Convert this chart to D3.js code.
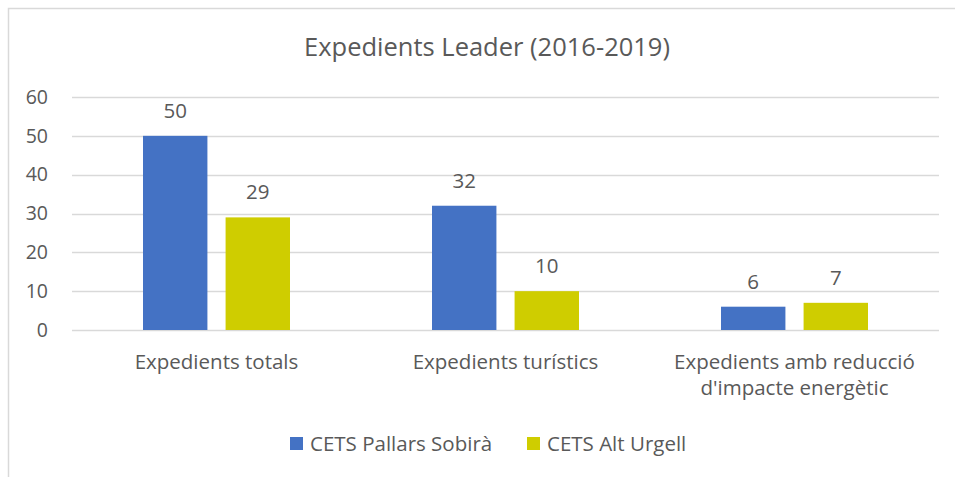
<!DOCTYPE html>
<meta charset="utf-8">
<style>
body { margin: 0; background: #fff; }
svg text { font-family: "Open Sans", sans-serif; fill: #595959; }
</style>
<svg width="955" height="477"></svg>
<script src="https://cdn.jsdelivr.net/npm/d3@7"></script>
<script>

var categories = [["Expedients totals"], ["Expedients turístics"], ["Expedients amb reducció", "d'impacte energètic"]];
var seriesNames = ["CETS Pallars Sobirà", "CETS Alt Urgell"];
var pallars = [50, 32, 6];
var altUrgell = [29, 10, 7];
var yTicks = [0, 10, 20, 30, 40, 50, 60];
var colors = ["#4472C4", "#CFCD00"];

var svg = d3.select("svg");

// chart frame (only top/left edge visible in the picture)
svg.append("rect")
    .attr("x", 8.5).attr("y", 8.5)
    .attr("width", 1000).attr("height", 1000)
    .attr("fill", "none")
    .attr("stroke", "#D9D9D9")
    .attr("stroke-width", 1.5);

svg.append("text")
    .attr("x", 487).attr("y", 56)
    .attr("text-anchor", "middle")
    .attr("font-size", 25.5)
    .text("Expedients Leader (2016-2019)");

var plotLeft = 72, plotRight = 939, plotTop = 97, plotBottom = 330;

var y = d3.scaleLinear().domain([0, 60]).range([plotBottom, plotTop]);
var x0 = d3.scaleBand().domain(d3.range(categories.length)).range([plotLeft, plotRight]);
var x1 = d3.scaleBand().domain(d3.range(2))
    .range([(x0.bandwidth() - 147) / 2, (x0.bandwidth() + 147) / 2])
    .paddingInner(0.22);

// gridlines
svg.append("g").selectAll("line")
    .data(yTicks)
  .enter().append("line")
    .attr("x1", plotLeft).attr("x2", plotRight)
    .attr("y1", function(d) { return Math.round(y(d)) + 0.5; })
    .attr("y2", function(d) { return Math.round(y(d)) + 0.5; })
    .attr("stroke", "#D9D9D9")
    .attr("stroke-width", 1.5);

var yAxis = svg.append("g")
    .attr("transform", "translate(" + plotLeft + ",0)")
    .call(d3.axisLeft(y).tickValues(yTicks).tickSize(0).tickPadding(24));
yAxis.select(".domain").remove();
yAxis.selectAll("text")
    .attr("font-size", 19.5)
    .attr("font-family", "Open Sans, sans-serif")
    .attr("fill", "#595959");

var data = [pallars, altUrgell];

var groups = svg.append("g").selectAll("g")
    .data(categories)
  .enter().append("g")
    .attr("transform", function(d, i) { return "translate(" + x0(i) + ",0)"; });

groups.selectAll("rect")
    .data(function(d, i) { return data.map(function(s, k) { return { k: k, v: s[i] }; }); })
  .enter().append("rect")
    .attr("x", function(d) { return x1(d.k); })
    .attr("width", x1.bandwidth())
    .attr("y", function(d) { return y(d.v); })
    .attr("height", function(d) { return y(0) - y(d.v); })
    .attr("fill", function(d) { return colors[d.k]; });

groups.selectAll("text.val")
    .data(function(d, i) { return data.map(function(s, k) { return { k: k, v: s[i] }; }); })
  .enter().append("text")
    .attr("class", "val")
    .attr("x", function(d) { return x1(d.k) + x1.bandwidth() / 2; })
    .attr("y", function(d) { return y(d.v) - 18; })
    .attr("text-anchor", "middle")
    .attr("font-size", 20.5)
    .text(function(d) { return d.v; });

// category labels
groups.each(function(lines) {
  var t = d3.select(this).append("text")
      .attr("text-anchor", "middle")
      .attr("font-size", 20.5);
  lines.forEach(function(l, j) {
    t.append("tspan")
        .attr("x", x0.bandwidth() / 2)
        .attr("y", 369 + j * 26)
        .text(l);
  });
});

// legend
var legendX = [290, 527];
var legend = svg.append("g").selectAll("g")
    .data(seriesNames)
  .enter().append("g")
    .attr("transform", function(d, i) { return "translate(" + legendX[i] + ",437)"; });
legend.append("rect")
    .attr("width", 13).attr("height", 13)
    .attr("fill", function(d, i) { return colors[i]; });
legend.append("text")
    .attr("x", 20).attr("y", 14)
    .attr("font-size", 20.5)
    .text(function(d) { return d; });

</script>
